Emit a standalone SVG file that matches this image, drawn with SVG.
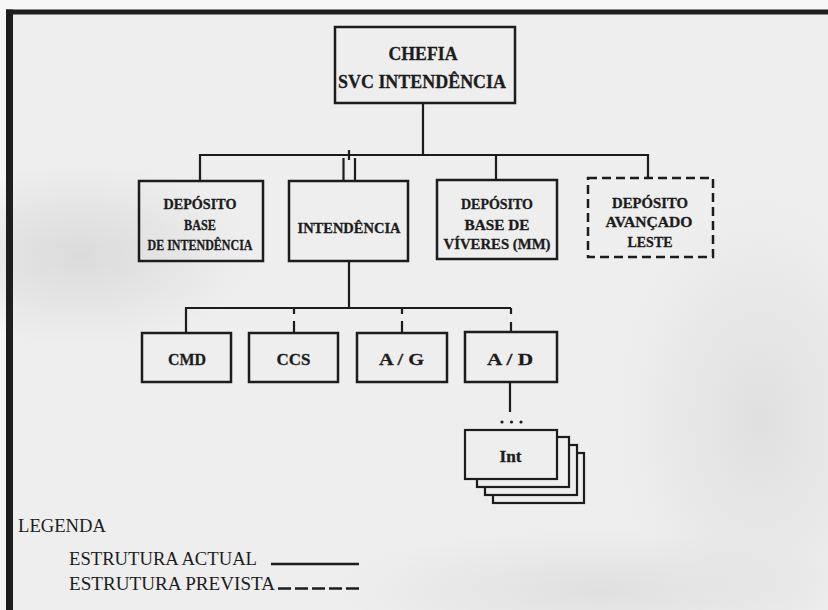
<svg xmlns="http://www.w3.org/2000/svg" width="828" height="610" viewBox="0 0 828 610">
<defs>
<radialGradient id="blobL" cx="0.5" cy="0.5" r="0.5">
<stop offset="0" stop-color="#d6d6d6" stop-opacity="0.8"/>
<stop offset="1" stop-color="#d6d6d6" stop-opacity="0"/>
</radialGradient>
<radialGradient id="blobR" cx="0.5" cy="0.5" r="0.5">
<stop offset="0" stop-color="#dadada" stop-opacity="0.7"/>
<stop offset="1" stop-color="#dadada" stop-opacity="0"/>
</radialGradient>
<style>
.box{fill:none;stroke:#1c1c1c;stroke-width:2.5}
.card{fill:#eeeeee;stroke:#1c1c1c;stroke-width:2.2}
.dash{fill:none;stroke:#1c1c1c;stroke-width:2.5;stroke-dasharray:9 5}
.conn{fill:none;stroke:#1c1c1c;stroke-width:2.2}
.t{font-family:"Liberation Serif","Times New Roman",serif;font-weight:bold;fill:#1c1c1c;text-anchor:middle;stroke:#1c1c1c;stroke-width:0.3}
.t14{font-size:15.5px}
.t16{font-size:17.5px}
.t17{font-size:19px}
.lg{font-family:"Liberation Serif","Times New Roman",serif;font-size:18px;fill:#1c1c1c}
</style>
</defs>
<rect x="0" y="0" width="828" height="610" fill="#f7f7f7"/>
<rect x="13" y="14" width="815" height="596" fill="#eeeeee"/>
<ellipse cx="80" cy="255" rx="170" ry="90" fill="url(#blobL)"/>
<ellipse cx="760" cy="420" rx="140" ry="220" fill="url(#blobR)"/>
<ellipse cx="600" cy="590" rx="260" ry="60" fill="url(#blobR)"/>
<rect x="6" y="9.5" width="822" height="5" fill="#1e1e1e"/>
<rect x="6" y="9.5" width="7" height="600.5" fill="#1e1e1e"/>

<g id="connectors">
<path class="conn" d="M423 103V155M200 181V155H648V178M496 155V181M349 150V160M343.5 158V181M355 158V181"/>
<path class="conn" d="M349 261V308M186 333V308H511"/>
<path class="conn" d="M294 308V314M294 321V333M402 308V314M402 321V333M511 308V314M511 322V333"/>
<path class="conn" d="M510 382V412"/>
<circle cx="502" cy="422" r="1.6" fill="#1c1c1c"/>
<circle cx="511.5" cy="422" r="1.6" fill="#1c1c1c"/>
<circle cx="521" cy="422" r="1.6" fill="#1c1c1c"/>
</g>

<g id="chefia">
<rect class="box" x="335" y="27" width="180" height="76"/>
<text class="t t17" x="423" y="60" textLength="69" lengthAdjust="spacingAndGlyphs">CHEFIA</text>
<text class="t t17" x="422" y="88" textLength="168" lengthAdjust="spacingAndGlyphs">SVC INTENDÊNCIA</text>
</g>

<g id="deposito-base-intendencia">
<rect class="box" x="139" y="181" width="124" height="80"/>
<text class="t t14" x="200" y="209" textLength="73" lengthAdjust="spacingAndGlyphs">DEPÓSITO</text>
<text class="t t14" x="200" y="230" textLength="32" lengthAdjust="spacingAndGlyphs">BASE</text>
<text class="t t14" x="200" y="250" textLength="105" lengthAdjust="spacingAndGlyphs">DE  INTENDÊNCIA</text>
</g>

<g id="intendencia">
<rect class="box" x="289" y="181" width="119" height="80"/>
<text class="t t14" x="349" y="233" textLength="103" lengthAdjust="spacingAndGlyphs">INTENDÊNCIA</text>
</g>

<g id="deposito-viveres">
<rect class="box" x="437" y="180" width="120" height="79"/>
<text class="t t14" x="497" y="209" textLength="72" lengthAdjust="spacingAndGlyphs">DEPÓSITO</text>
<text class="t t14" x="497" y="230" textLength="65" lengthAdjust="spacingAndGlyphs">BASE DE</text>
<text class="t t14" x="497" y="249" textLength="107" lengthAdjust="spacingAndGlyphs">VÍVERES (MM)</text>
</g>

<g id="deposito-avancado">
<rect class="dash" x="588" y="178" width="125" height="79"/>
<text class="t t14" x="650" y="208" textLength="76" lengthAdjust="spacingAndGlyphs">DEPÓSITO</text>
<text class="t t14" x="649" y="227" textLength="87" lengthAdjust="spacingAndGlyphs">AVANÇADO</text>
<text class="t t14" x="650" y="247" textLength="45" lengthAdjust="spacingAndGlyphs">LESTE</text>
</g>

<g id="cmd">
<rect class="box" x="142" y="333" width="89" height="49"/>
<text class="t t16" x="187" y="365" textLength="38" lengthAdjust="spacingAndGlyphs">CMD</text>
</g>
<g id="ccs">
<rect class="box" x="249" y="333" width="89" height="49"/>
<text class="t t16" x="293.5" y="365" textLength="34" lengthAdjust="spacingAndGlyphs">CCS</text>
</g>
<g id="ag">
<rect class="box" x="357" y="333" width="90" height="49"/>
<text class="t t16" x="401.5" y="365" textLength="45" lengthAdjust="spacingAndGlyphs">A / G</text>
</g>
<g id="ad">
<rect class="box" x="465" y="332" width="92" height="50"/>
<text class="t t16" x="510" y="365" textLength="46" lengthAdjust="spacingAndGlyphs">A / D</text>
</g>

<g id="int">
<rect class="card" x="493" y="453" width="91" height="50"/>
<rect class="card" x="485" y="445" width="92" height="50"/>
<rect class="card" x="477" y="437" width="92" height="50"/>
<rect class="card" x="465" y="430" width="92" height="49"/>
<text class="t t16" x="510.5" y="462" textLength="22" lengthAdjust="spacingAndGlyphs">Int</text>
</g>

<g id="legenda">
<text class="lg" x="18" y="532" textLength="88" lengthAdjust="spacingAndGlyphs">LEGENDA</text>
<text class="lg" x="69" y="565" textLength="188" lengthAdjust="spacingAndGlyphs">ESTRUTURA ACTUAL</text>
<text class="lg" x="69" y="590" textLength="206" lengthAdjust="spacingAndGlyphs">ESTRUTURA PREVISTA</text>
<line x1="271" y1="564" x2="359" y2="564" stroke="#1c1c1c" stroke-width="2.5"/>
<line x1="278" y1="588.5" x2="359" y2="588.5" stroke="#1c1c1c" stroke-width="2.5" stroke-dasharray="13 4"/>
</g>
</svg>
